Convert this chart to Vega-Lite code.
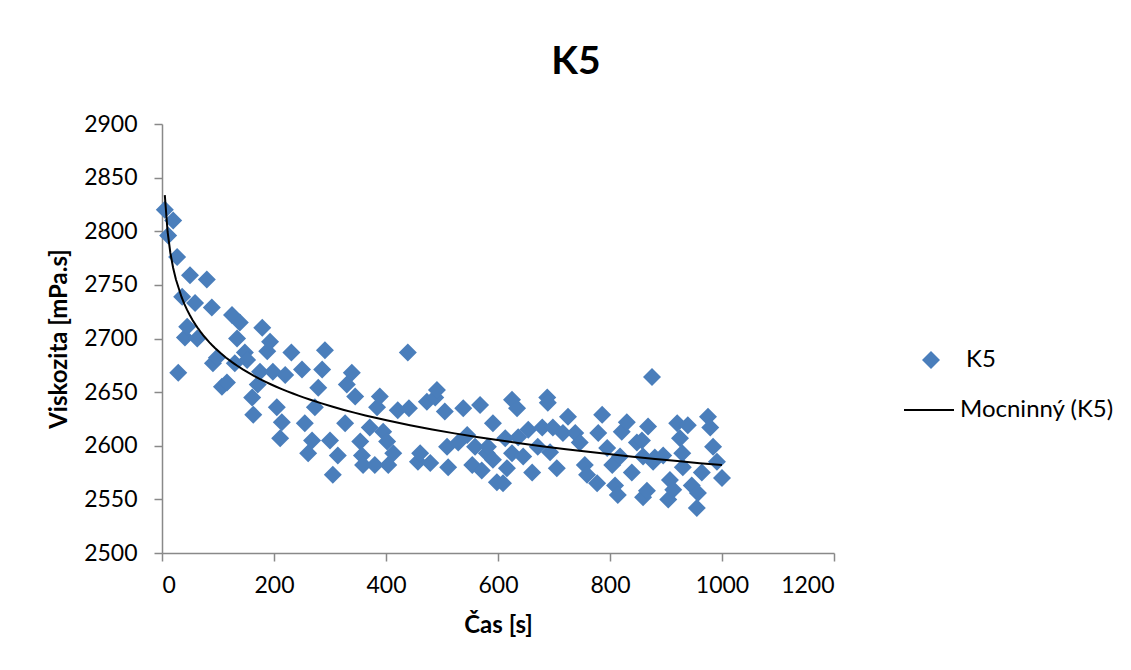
{
  "$schema": "https://vega.github.io/schema/vega-lite/v6.json",
  "width": 672,
  "height": 429,
  "autosize": {"type": "none"},
  "padding": {"left": 162, "top": 124, "right": 297, "bottom": 117},
  "background": "white",
  "title": {
    "text": "K5",
    "font": "Lato",
    "fontSize": 39,
    "fontWeight": "bold",
    "color": "black",
    "anchor": "middle",
    "baseline": "alphabetic",
    "offset": 0,
    "dx": 78
  },
  "config": {
    "view": {"stroke": null},
    "axis": {
      "grid": false,
      "domainColor": "#898989",
      "domainWidth": 1.5,
      "tickColor": "#898989",
      "tickWidth": 1.5,
      "tickSize": 8,
      "labelFont": "Lato",
      "labelFontSize": 23,
      "labelColor": "black",
      "format": "d",
      "titleFont": "Lato",
      "titleFontSize": 24,
      "titleFontWeight": "bold",
      "titleColor": "black"
    },
    "legend": {
      "labelFont": "Lato",
      "labelFontSize": 24,
      "labelColor": "black",
      "labelLimit": 400,
      "padding": 0
    }
  },
  "data": {
    "values": [
      {"cas": 5, "viskozita": 2820}, {"cas": 11, "viskozita": 2796}, {"cas": 20, "viskozita": 2810},
      {"cas": 27, "viskozita": 2776}, {"cas": 29, "viskozita": 2668}, {"cas": 36, "viskozita": 2739},
      {"cas": 41, "viskozita": 2701}, {"cas": 45, "viskozita": 2711}, {"cas": 50, "viskozita": 2759},
      {"cas": 59, "viskozita": 2733}, {"cas": 63, "viskozita": 2700}, {"cas": 80, "viskozita": 2755},
      {"cas": 89, "viskozita": 2729}, {"cas": 91, "viskozita": 2677}, {"cas": 98, "viskozita": 2682},
      {"cas": 107, "viskozita": 2655}, {"cas": 116, "viskozita": 2659}, {"cas": 125, "viskozita": 2722},
      {"cas": 130, "viskozita": 2677}, {"cas": 134, "viskozita": 2700}, {"cas": 139, "viskozita": 2715},
      {"cas": 148, "viskozita": 2687}, {"cas": 152, "viskozita": 2680}, {"cas": 161, "viskozita": 2645},
      {"cas": 163, "viskozita": 2629}, {"cas": 171, "viskozita": 2657}, {"cas": 175, "viskozita": 2669},
      {"cas": 179, "viskozita": 2710}, {"cas": 188, "viskozita": 2688}, {"cas": 193, "viskozita": 2697},
      {"cas": 198, "viskozita": 2669}, {"cas": 205, "viskozita": 2636}, {"cas": 211, "viskozita": 2607},
      {"cas": 214, "viskozita": 2622}, {"cas": 220, "viskozita": 2666}, {"cas": 231, "viskozita": 2687},
      {"cas": 250, "viskozita": 2671}, {"cas": 255, "viskozita": 2621}, {"cas": 261, "viskozita": 2593},
      {"cas": 268, "viskozita": 2605}, {"cas": 273, "viskozita": 2636}, {"cas": 279, "viskozita": 2654},
      {"cas": 286, "viskozita": 2671}, {"cas": 291, "viskozita": 2689}, {"cas": 300, "viskozita": 2605},
      {"cas": 305, "viskozita": 2573}, {"cas": 314, "viskozita": 2591}, {"cas": 327, "viskozita": 2621},
      {"cas": 330, "viskozita": 2657}, {"cas": 339, "viskozita": 2668}, {"cas": 345, "viskozita": 2646},
      {"cas": 354, "viskozita": 2604}, {"cas": 357, "viskozita": 2591}, {"cas": 359, "viskozita": 2582},
      {"cas": 371, "viskozita": 2617}, {"cas": 380, "viskozita": 2582}, {"cas": 384, "viskozita": 2636},
      {"cas": 389, "viskozita": 2646}, {"cas": 395, "viskozita": 2613}, {"cas": 402, "viskozita": 2604},
      {"cas": 404, "viskozita": 2582}, {"cas": 413, "viskozita": 2593}, {"cas": 421, "viskozita": 2633},
      {"cas": 439, "viskozita": 2687}, {"cas": 441, "viskozita": 2635}, {"cas": 457, "viskozita": 2585},
      {"cas": 461, "viskozita": 2593}, {"cas": 473, "viskozita": 2641}, {"cas": 479, "viskozita": 2584},
      {"cas": 488, "viskozita": 2645}, {"cas": 491, "viskozita": 2652}, {"cas": 505, "viskozita": 2632},
      {"cas": 509, "viskozita": 2599}, {"cas": 511, "viskozita": 2580}, {"cas": 529, "viskozita": 2603},
      {"cas": 538, "viskozita": 2635}, {"cas": 545, "viskozita": 2610}, {"cas": 554, "viskozita": 2582},
      {"cas": 559, "viskozita": 2599}, {"cas": 568, "viskozita": 2638}, {"cas": 571, "viskozita": 2577},
      {"cas": 580, "viskozita": 2593}, {"cas": 582, "viskozita": 2599}, {"cas": 591, "viskozita": 2621},
      {"cas": 591, "viskozita": 2587}, {"cas": 598, "viskozita": 2566}, {"cas": 609, "viskozita": 2565},
      {"cas": 613, "viskozita": 2607}, {"cas": 616, "viskozita": 2579}, {"cas": 625, "viskozita": 2643},
      {"cas": 625, "viskozita": 2593}, {"cas": 634, "viskozita": 2635}, {"cas": 636, "viskozita": 2608},
      {"cas": 645, "viskozita": 2590}, {"cas": 654, "viskozita": 2615}, {"cas": 661, "viskozita": 2575},
      {"cas": 671, "viskozita": 2599}, {"cas": 679, "viskozita": 2617}, {"cas": 688, "viskozita": 2645},
      {"cas": 689, "viskozita": 2640}, {"cas": 693, "viskozita": 2594}, {"cas": 698, "viskozita": 2617},
      {"cas": 705, "viskozita": 2579}, {"cas": 716, "viskozita": 2612}, {"cas": 725, "viskozita": 2627},
      {"cas": 738, "viskozita": 2612}, {"cas": 746, "viskozita": 2603}, {"cas": 755, "viskozita": 2582},
      {"cas": 759, "viskozita": 2573}, {"cas": 777, "viskozita": 2565}, {"cas": 779, "viskozita": 2612},
      {"cas": 786, "viskozita": 2629}, {"cas": 795, "viskozita": 2598}, {"cas": 804, "viskozita": 2582},
      {"cas": 809, "viskozita": 2563}, {"cas": 814, "viskozita": 2554}, {"cas": 818, "viskozita": 2590},
      {"cas": 821, "viskozita": 2613}, {"cas": 830, "viskozita": 2622}, {"cas": 839, "viskozita": 2575},
      {"cas": 848, "viskozita": 2603}, {"cas": 857, "viskozita": 2605}, {"cas": 859, "viskozita": 2590},
      {"cas": 859, "viskozita": 2552}, {"cas": 866, "viskozita": 2558}, {"cas": 868, "viskozita": 2618},
      {"cas": 875, "viskozita": 2664}, {"cas": 877, "viskozita": 2585}, {"cas": 880, "viskozita": 2589},
      {"cas": 895, "viskozita": 2591}, {"cas": 904, "viskozita": 2550}, {"cas": 907, "viskozita": 2568},
      {"cas": 913, "viskozita": 2559}, {"cas": 920, "viskozita": 2621}, {"cas": 925, "viskozita": 2607},
      {"cas": 929, "viskozita": 2593}, {"cas": 930, "viskozita": 2580}, {"cas": 939, "viskozita": 2619},
      {"cas": 946, "viskozita": 2563}, {"cas": 955, "viskozita": 2542}, {"cas": 957, "viskozita": 2556},
      {"cas": 964, "viskozita": 2575}, {"cas": 975, "viskozita": 2627}, {"cas": 979, "viskozita": 2617},
      {"cas": 984, "viskozita": 2599}, {"cas": 991, "viskozita": 2585}, {"cas": 1000, "viskozita": 2570}
    ]
  },
  "layer": [
    {
      "mark": {"type": "point", "shape": "diamond", "filled": true, "color": "#4A7EBB", "opacity": 1, "size": 324},
      "encoding": {
        "x": {
          "field": "cas", "type": "quantitative", "title": "Čas [s]",
          "scale": {"domain": [0, 1200], "nice": false, "zero": false},
          "axis": {"values": [0, 200, 400, 600, 800, 1000, 1200], "labelPadding": 13, "titlePadding": 16}
        },
        "y": {
          "field": "viskozita", "type": "quantitative", "title": "Viskozita [mPa.s]",
          "scale": {"domain": [2500, 2900], "nice": false, "zero": false},
          "axis": {"values": [2500, 2550, 2600, 2650, 2700, 2750, 2800, 2850, 2900], "labelPadding": 17, "titlePadding": 12}
        },
        "shape": {
          "datum": "K5",
          "scale": {"range": ["diamond"]},
          "legend": {
            "title": null, "orient": "none", "legendX": 741, "legendY": 224,
            "symbolSize": 324, "symbolFillColor": "#4A7EBB", "symbolStrokeColor": "#4A7EBB",
            "symbolOpacity": 1, "symbolOffset": 16, "labelOffset": 23
          }
        }
      }
    },
    {
      "transform": [{"regression": "viskozita", "on": "cas", "method": "pow"}],
      "mark": {"type": "line", "strokeWidth": 2},
      "encoding": {
        "x": {"field": "cas", "type": "quantitative"},
        "y": {"field": "viskozita", "type": "quantitative"},
        "stroke": {
          "datum": "Mocninný (K5)",
          "scale": {"range": ["black"]},
          "legend": {
            "title": null, "orient": "none", "legendX": 741, "legendY": 260,
            "symbolType": "stroke", "symbolSize": 2500, "symbolStrokeWidth": 2, "labelOffset": 5
          }
        }
      }
    }
  ]
}
